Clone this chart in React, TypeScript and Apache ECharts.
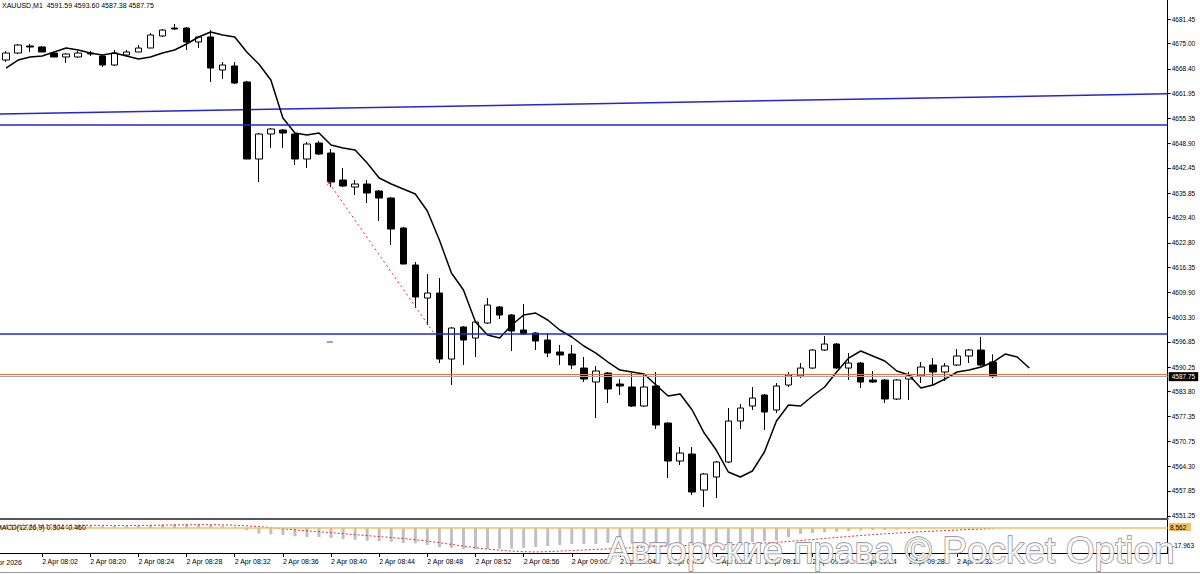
import React, { useEffect, useRef } from 'react';
import * as echarts from 'echarts';

// ---------- data ----------
const SLOT_COUNT = 97; // candle slots incl. empty right margin
const OPEN = [4670.71, 4672.54, 4674.38, 4674.12, 4672.54, 4671.50, 4671.50, 4672.54, 4671.76, 4669.40, 4672.02, 4672.81, 4673.85, 4677.00, 4679.09, 4679.09, 4675.43, 4676.74, 4668.09, 4669.14, 4664.95, 4644.77, 4651.32, 4652.37, 4651.32, 4644.77, 4648.96, 4646.34, 4639.27, 4637.44, 4638.22, 4636.39, 4634.55, 4626.69, 4617.00, 4608.35, 4609.66, 4592.37, 4600.76, 4597.87, 4601.80, 4606.00, 4603.90, 4599.97, 4599.18, 4597.35, 4594.21, 4593.68, 4590.01, 4586.35, 4588.70, 4585.82, 4585.04, 4580.06, 4585.30, 4575.60, 4565.65, 4567.48, 4558.05, 4561.46, 4565.39, 4576.13, 4580.06, 4582.94, 4579.01, 4585.56, 4587.92, 4590.01, 4594.73, 4596.30, 4590.01, 4591.32, 4586.87, 4586.87, 4581.89, 4587.13, 4587.92, 4590.80, 4588.97, 4590.80, 4593.16, 4594.73, 4591.59];
const CLOSE = [4672.54, 4674.64, 4674.12, 4672.81, 4671.50, 4672.28, 4672.54, 4672.28, 4669.40, 4672.54, 4672.81, 4673.85, 4677.26, 4678.57, 4678.83, 4675.43, 4676.74, 4668.61, 4669.40, 4664.68, 4644.77, 4651.32, 4652.63, 4651.58, 4644.77, 4648.70, 4646.08, 4638.75, 4637.70, 4638.22, 4635.86, 4634.55, 4626.43, 4617.26, 4608.62, 4609.66, 4592.37, 4600.49, 4597.35, 4602.07, 4606.52, 4603.90, 4599.71, 4598.92, 4597.09, 4593.94, 4593.42, 4590.80, 4587.13, 4589.23, 4584.51, 4585.30, 4580.06, 4585.04, 4575.08, 4565.65, 4567.74, 4557.53, 4562.24, 4565.39, 4576.13, 4579.53, 4582.15, 4578.49, 4585.30, 4588.18, 4590.01, 4594.73, 4596.30, 4590.01, 4591.32, 4586.35, 4586.35, 4581.89, 4586.87, 4587.92, 4590.28, 4588.97, 4590.54, 4593.16, 4594.73, 4590.80, 4587.75];
const LOW = [4670.19, 4672.28, 4672.81, 4672.81, 4671.50, 4669.92, 4671.23, 4671.76, 4668.88, 4669.14, 4671.76, 4672.81, 4673.85, 4676.74, 4678.57, 4673.33, 4673.85, 4664.95, 4665.73, 4664.42, 4644.77, 4638.75, 4647.65, 4647.65, 4643.20, 4642.41, 4645.82, 4637.44, 4637.44, 4635.34, 4633.24, 4628.53, 4622.24, 4617.26, 4605.73, 4601.28, 4591.32, 4585.56, 4590.80, 4592.90, 4601.54, 4602.85, 4594.47, 4598.66, 4594.73, 4592.90, 4590.80, 4589.75, 4586.35, 4576.91, 4580.84, 4582.94, 4579.80, 4579.80, 4574.03, 4561.19, 4564.60, 4556.74, 4553.60, 4555.95, 4565.12, 4574.03, 4579.01, 4573.77, 4578.22, 4585.04, 4587.40, 4589.75, 4594.47, 4589.75, 4586.87, 4584.77, 4586.08, 4580.84, 4581.63, 4581.63, 4586.08, 4585.56, 4586.61, 4590.54, 4591.32, 4590.54, 4587.38];
const HIGH = [4673.07, 4674.90, 4674.90, 4674.38, 4672.81, 4672.54, 4673.07, 4673.07, 4672.02, 4673.33, 4673.33, 4674.64, 4677.78, 4678.83, 4680.14, 4679.36, 4677.00, 4678.57, 4670.19, 4670.19, 4665.21, 4651.58, 4652.89, 4652.63, 4651.58, 4649.23, 4649.49, 4647.39, 4642.41, 4639.27, 4639.27, 4636.65, 4634.82, 4626.96, 4617.79, 4614.64, 4613.59, 4600.76, 4601.02, 4602.33, 4608.35, 4606.26, 4604.16, 4606.78, 4599.45, 4599.18, 4596.04, 4596.04, 4592.90, 4590.54, 4588.97, 4587.13, 4588.70, 4588.70, 4588.97, 4575.87, 4569.32, 4569.32, 4562.50, 4565.65, 4579.53, 4580.58, 4585.04, 4583.20, 4586.08, 4588.97, 4591.32, 4594.99, 4598.40, 4596.56, 4593.94, 4591.59, 4589.23, 4587.13, 4587.13, 4588.97, 4591.59, 4592.63, 4591.32, 4594.99, 4594.99, 4598.14, 4593.60];
// moving average (shifted 3 bars forward)
const MA = [4668.61, 4670.71, 4671.50, 4671.76, 4672.81, 4673.85, 4673.33, 4672.54, 4672.02, 4672.54, 4671.76, 4670.97, 4671.50, 4672.54, 4673.33, 4674.90, 4676.74, 4678.05, 4677.26, 4676.74, 4672.81, 4669.66, 4665.47, 4655.51, 4651.58, 4651.06, 4651.58, 4648.44, 4647.65, 4647.13, 4643.72, 4639.79, 4638.22, 4636.91, 4635.60, 4631.15, 4623.55, 4614.90, 4610.45, 4602.07, 4598.66, 4597.87, 4601.28, 4603.90, 4604.42, 4602.59, 4599.97, 4598.14, 4595.78, 4593.94, 4591.59, 4589.49, 4588.97, 4588.44, 4585.56, 4582.68, 4583.20, 4579.01, 4572.98, 4568.53, 4562.77, 4561.46, 4563.03, 4568.01, 4576.13, 4580.32, 4580.06, 4582.68, 4585.04, 4588.97, 4592.63, 4594.47, 4593.16, 4591.85, 4589.23, 4588.18, 4584.77, 4585.56, 4587.13, 4588.97, 4589.49, 4590.28, 4591.59, 4593.68, 4592.90, 4590.01];
// MACD(12,26,9)
const MACD_HIST = [1.6, 1.8, 2.0, 2.0, 1.9, 1.8, 1.8, 1.7, 1.6, 1.6, 1.7, 1.8, 2.2, 2.6, 2.9, 2.8, 2.8, 2.2, 1.6, 0.9, -1.5, -4.0, -4.5, -5.0, -6.0, -6.5, -6.5, -7.2, -8.0, -8.5, -9.3, -9.5, -10.0, -10.8, -11.0, -12.2, -13.7, -14.4, -15.1, -15.1, -15.1, -15.0, -14.8, -14.4, -13.7, -13.0, -12.2, -11.5, -11.5, -11.5, -10.8, -10.8, -11.2, -11.0, -11.5, -12.5, -12.8, -13.6, -13.8, -13.2, -11.8, -10.8, -10.2, -9.6, -9.0, -6.5, -4.2, -3.6, -3.0, -2.6, -2.2, -1.8, -1.5, -1.4, -1.2, -1.0, -0.8, -0.5, -0.3, 0.0, 0.2, 0.3, 0.3];
const MACD_SIGNAL = [2.0, 2.0, 2.1, 2.1, 2.1, 2.0, 2.0, 1.9, 1.9, 1.8, 1.8, 1.8, 1.9, 2.0, 2.1, 2.2, 2.3, 2.3, 2.2, 2.0, 1.5, 1.0, 0.2, -0.6, -1.4, -2.1, -2.7, -3.4, -4.1, -4.8, -5.5, -6.2, -6.9, -7.6, -8.4, -9.4, -10.6, -11.8, -13.0, -14.2, -15.2, -16.0, -16.6, -17.0, -17.2, -17.0, -16.6, -16.2, -15.8, -15.4, -15.0, -14.6, -14.2, -13.8, -13.4, -13.0, -12.7, -12.5, -12.3, -12.2, -12.0, -11.7, -11.3, -10.8, -10.3, -9.7, -9.0, -8.3, -7.5, -6.8, -6.1, -5.4, -4.8, -4.2, -3.7, -3.2, -2.7, -2.3, -1.9, -1.5, -1.1, -0.8, -0.46];
const MACD_MIN = -17.963;
const MACD_MAX = 8.562;

// horizontal levels and objects
const LEVEL_UPPER = 4653.68;
const LEVEL_LOWER = 4598.9;
const ASK = 4588.35;
const BID = 4587.75;
const TREND_LINE: [number, number][] = [[-0.5, 4656.56], [96.5, 4661.85]];
const TRADE_LINE: [number, number][] = [[26.84, 4638.48], [35.54, 4599.18]];
const TRADE_MARK: [number, number][] = [[26.9, 4596.83]];

// axes
const PRICE_MIN = 4550.46;
const PRICE_MAX = 4686.43;
const PRICE_TICKS = [4681.45, 4675.0, 4668.4, 4661.95, 4655.35, 4648.9, 4642.45, 4635.85, 4629.4, 4622.8, 4616.35, 4609.9, 4603.3, 4596.85, 4590.25, 4583.8, 4577.35, 4570.75, 4564.3, 4557.85, 4551.25];
const TIME_TICK_INDEX = [3, 7, 11, 15, 19, 23, 27, 31, 35, 39, 43, 47, 51, 55, 59, 63, 67, 71, 75, 79];
const TIME_TICK_TEXT = ['2 Apr 08:02', '2 Apr 08:20', '2 Apr 08:24', '2 Apr 08:28', '2 Apr 08:32', '2 Apr 08:36', '2 Apr 08:40', '2 Apr 08:44', '2 Apr 08:48', '2 Apr 08:52', '2 Apr 08:56', '2 Apr 09:00', '2 Apr 09:04', '2 Apr 09:08', '2 Apr 09:12', '2 Apr 09:16', '2 Apr 09:20', '2 Apr 09:24', '2 Apr 09:28', '2 Apr 09:32'];
const FIRST_DATE_LABEL = '2 Apr 2026';
const TITLE = 'XAUUSD,M1  4591.59 4593.60 4587.38 4587.75';
const MACD_TITLE = 'MACD(12,26,9) 0.304 -0.460';
const WATERMARK = 'Авторские права © Pocket Option';

const FONT = '"Liberation Sans", Arial, sans-serif';
const BLUE = '#2424d8';

export default function App() {
  const ref = useRef<HTMLDivElement>(null);
  useEffect(() => {
    document.body.style.margin = '0';
    const chart = echarts.init(ref.current!, null, { renderer: 'svg' });
    const cats = Array.from({ length: SLOT_COUNT }, (_, i) => String(i));
    const tickMap = new Map<number, string>();
    TIME_TICK_INDEX.forEach((idx, k) => tickMap.set(idx, TIME_TICK_TEXT[k]));
    const tickFilter = (i: number) => tickMap.has(i);

    const gridLeft = -4.5;
    const gridWidth = 1172.2;

    const option: any = {
      animation: false,
      backgroundColor: '#ffffff',
      textStyle: { fontFamily: FONT },
      grid: [
        { left: gridLeft, width: gridWidth, top: 0, height: 519 },
        { left: gridLeft, width: gridWidth, top: 516, height: 37 },
      ],
      xAxis: [
        {
          type: 'category', gridIndex: 0, data: cats, boundaryGap: true,
          axisLine: { show: true, onZero: false, lineStyle: { color: '#555', width: 2 } },
          axisTick: { show: false }, axisLabel: { show: false }, splitLine: { show: false },
        },
        { type: 'value', gridIndex: 0, min: -0.5, max: SLOT_COUNT - 0.5, show: false, axisLine: { onZero: false } },
        {
          type: 'category', gridIndex: 1, data: cats, boundaryGap: true,
          axisLine: { show: true, onZero: false, lineStyle: { color: '#000', width: 1 } },
          axisTick: { show: true, interval: (i: number) => tickFilter(i), alignWithLabel: true, length: 4, lineStyle: { color: '#000' } },
          axisLabel: {
            show: true, interval: (i: number) => tickFilter(i),
            formatter: (_v: string, i: number) => tickMap.get(i) ?? '',
            align: 'left', fontSize: 7, color: '#000', margin: 5, fontFamily: FONT,
          },
          splitLine: { show: false },
        },
      ],
      yAxis: [
        {
          type: 'value', gridIndex: 0, position: 'right', min: PRICE_MIN, max: PRICE_MAX, scale: true,
          axisLine: { show: true, onZero: false, lineStyle: { color: '#000', width: 1 } },
          axisTick: { show: true, customValues: PRICE_TICKS, length: 3, inside: false, lineStyle: { color: '#000' } },
          axisLabel: { show: true, customValues: PRICE_TICKS, formatter: (v: number) => v.toFixed(2), fontSize: 6.5, color: '#000', margin: 4, fontFamily: FONT },
          splitLine: { show: false },
        },
        {
          type: 'value', gridIndex: 1, position: 'right', min: MACD_MIN, max: MACD_MAX,
          axisLine: { show: true, onZero: false, lineStyle: { color: '#000', width: 1 } },
          axisTick: { show: false }, axisLabel: { show: false }, splitLine: { show: false },
        },
      ],
      series: [
        {
          type: 'line', xAxisIndex: 1, yAxisIndex: 0, data: TREND_LINE, symbol: 'none',
          lineStyle: { color: BLUE, width: 1.5 }, silent: true, z: 1,
        },
        {
          type: 'candlestick', xAxisIndex: 0, yAxisIndex: 0,
          data: OPEN.map((o, i) => [o, CLOSE[i], LOW[i], HIGH[i]]),
          barWidth: 7,
          itemStyle: { color: '#ffffff', color0: '#000000', borderColor: '#000000', borderColor0: '#000000', borderWidth: 1 },
          z: 3,
          markLine: {
            symbol: ['none', 'none'], silent: true, animation: false,
            label: { show: false },
            data: [
              { yAxis: LEVEL_UPPER, lineStyle: { color: BLUE, width: 1.5, type: 'solid' } },
              { yAxis: LEVEL_LOWER, lineStyle: { color: BLUE, width: 1.5, type: 'solid' } },
              { yAxis: ASK, lineStyle: { color: '#e8703a', width: 1, type: 'solid' } },
              {
                yAxis: BID, lineStyle: { color: '#a8a8a8', width: 1, type: 'solid' },
                label: {
                  show: true, position: 'end', distance: 1, formatter: BID.toFixed(2),
                  backgroundColor: '#000', color: '#fff', fontSize: 6.5, padding: [1, 3, 1, 3], fontFamily: FONT,
                },
              },
            ],
          },
        },
        {
          type: 'line', xAxisIndex: 0, yAxisIndex: 0, data: MA, symbol: 'none', showSymbol: false,
          lineStyle: { color: '#000', width: 1.5 }, silent: true, z: 4,
        },
        {
          type: 'line', xAxisIndex: 1, yAxisIndex: 0, data: TRADE_LINE, symbol: 'none',
          lineStyle: { color: '#e02828', width: 1, type: [2, 3] }, silent: true, z: 5,
        },
        {
          type: 'scatter', xAxisIndex: 1, yAxisIndex: 0, data: [TRADE_LINE[0]],
          symbol: 'path://M0,1 L1,0 L5,4 L9,0 L10,1 L6,5 L10,9 L9,10 L5,6 L1,10 L0,9 L4,5 Z',
          symbolSize: 5, itemStyle: { color: '#e02020' }, silent: true, z: 6,
        },
        {
          type: 'scatter', xAxisIndex: 1, yAxisIndex: 0, data: TRADE_MARK,
          symbol: 'rect', symbolSize: [6, 1.5], itemStyle: { color: '#5050e0' }, silent: true, z: 6,
        },
        {
          type: 'bar', xAxisIndex: 2, yAxisIndex: 1, data: MACD_HIST, barWidth: 3,
          itemStyle: { color: '#c0c0c0' }, silent: true, z: 2,
          markLine: {
            symbol: ['none', 'none'], silent: true, label: { show: false },
            data: [{ yAxis: 0, lineStyle: { color: '#f0c060', width: 1.5, type: 'solid' } }],
          },
        },
        {
          type: 'line', xAxisIndex: 2, yAxisIndex: 1, data: MACD_SIGNAL, symbol: 'none',
          lineStyle: { color: '#e03030', width: 1, type: [2, 2] }, silent: true, z: 3,
        },
      ],
      graphic: [
        { type: 'text', left: 2, top: 2, z: 10, style: { text: TITLE, font: `7px ${FONT}`, fill: '#000' } },
        { type: 'text', x: -4, y: 524, z: 10, style: { text: MACD_TITLE, font: `7px ${FONT}`, fill: '#000' } },
        {
          type: 'rect', x: 1169, y: 523, z: 10, shape: { width: 22, height: 8 },
          style: { fill: '#f5c060' },
        },
        { type: 'text', x: 1170, y: 524, z: 11, style: { text: MACD_MAX.toFixed(3), font: `6.5px ${FONT}`, fill: '#000' } },
        { type: 'text', x: 1172, y: 542, z: 11, style: { text: MACD_MIN.toFixed(3), font: `6.5px ${FONT}`, fill: '#000' } },
        { type: 'text', x: -12, y: 559, z: 10, style: { text: FIRST_DATE_LABEL, font: `7px ${FONT}`, fill: '#000' } },
        { type: 'line', z: 10, shape: { x1: 0, y1: 572.5, x2: 1200, y2: 572.5 }, style: { stroke: '#9a9a9a', lineWidth: 1 } },
        {
          type: 'text', x: 606, y: 569, z: 20,
          style: {
            text: WATERMARK, font: `37px ${FONT}`, fill: 'rgba(255,255,255,0.85)',
            stroke: '#8c8c8c', lineWidth: 1.3, textVerticalAlign: 'bottom',
          },
        },
      ],
    };
    chart.setOption(option);
    return () => chart.dispose();
  }, []);
  return <div ref={ref} style={{ width: 1200, height: 574 }} />;
}
